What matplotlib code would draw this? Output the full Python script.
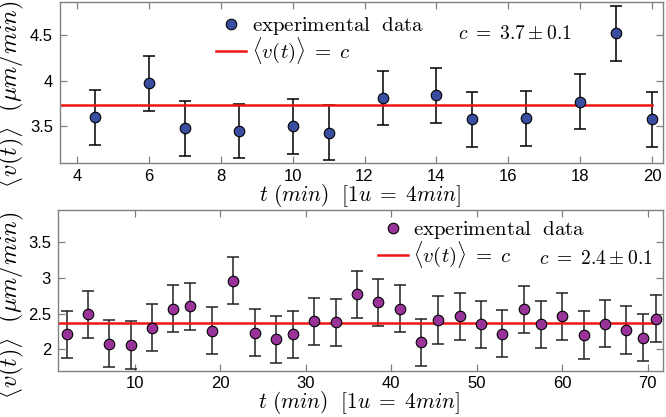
import matplotlib
matplotlib.use("Agg")
import matplotlib.pyplot as plt
from matplotlib.lines import Line2D

plt.rcParams['mathtext.fontset'] = 'cm'
plt.rcParams['font.family'] = ['Liberation Sans', 'DejaVu Sans']

# Top panel data
t1 = [4.5, 6, 7, 8.5, 10, 11, 12.5, 14, 15, 16.5, 18, 19, 20]
v1 = [3.60, 3.97, 3.48, 3.45, 3.50, 3.43, 3.81, 3.84, 3.58, 3.59, 3.77, 4.52, 3.58]
e1 = [0.3] * len(t1)
c1 = 3.73

# Bottom panel data
t2 = [2, 4.5, 7, 9.5, 12, 14.5, 16.5, 19, 21.5, 24, 26.5, 28.5, 31, 33.5, 36,
      38.5, 41, 43.5, 45.5, 48, 50.5, 53, 55.5, 57.5, 60, 62.5, 65, 67.5, 69.5, 71]
v2 = [2.21, 2.49, 2.08, 2.06, 2.30, 2.57, 2.60, 2.26, 2.96, 2.23, 2.14, 2.21, 2.39, 2.38, 2.77,
      2.66, 2.57, 2.10, 2.41, 2.46, 2.35, 2.22, 2.56, 2.35, 2.46, 2.20, 2.36, 2.27, 2.16, 2.43]
e2 = [0.33] * len(t2)
c2 = 2.37

xticks1 = [4, 6, 8, 10, 12, 14, 16, 18, 20]
yticks1 = [3.5, 4, 4.5]
xticks2 = [10, 20, 30, 40, 50, 60, 70]
yticks2 = [2, 2.5, 3, 3.5]

fig = plt.figure(figsize=(6.66, 4.17), dpi=100)
ax1 = fig.add_axes([60/666, 1 - 163/417, 603/666, 161/417])
ax2 = fig.add_axes([58/666, 1 - 370.7/417, 605/666, 160.7/417])

spine_col = '#808080'
red = '#f01515'
xlab = r'$t\ (min)\ \ [1u\;=\;4min]$'
ylab = r'$\langle v(t)\rangle\ \ (\mu m/min)$'
leg_labels = [r'$\mathrm{experimental\ \ data}$', r'$\langle v(t)\rangle\;=\;c$']

def style(ax):
    for s in ax.spines.values():
        s.set_color(spine_col)
        s.set_linewidth(1.0)
    ax.tick_params(direction='in', top=True, right=True, labelsize=12,
                   color=spine_col, length=5, width=0.9, pad=5)
    ax.tick_params(axis='x', pad=4)

def fmt(v):
    return ('%g' % v)

def handles(col):
    return [Line2D([], [], ls='none', marker='o', color=col, markeredgecolor='black',
                   markeredgewidth=0.8, markersize=7.6),
            Line2D([], [], color=red, lw=1.8)]

# Top
ax1.errorbar(t1, v1, yerr=e1, fmt='none', ecolor='black', elinewidth=1.1,
             capsize=4.2, capthick=1.1, zorder=2)
ax1.plot(t1, v1, 'o', color='#3a4ea0', markeredgecolor='black', markeredgewidth=0.8,
         markersize=7.6, zorder=3)
ax1.plot([3.5, 20], [c1, c1], color=red, lw=1.8, zorder=2.5)
ax1.set_xlim(3.53, 20.3)
ax1.set_ylim(3.1, 4.86)
ax1.set_xticks(xticks1)
ax1.set_xticklabels([fmt(x) for x in xticks1])
ax1.set_yticks(yticks1)
ax1.set_yticklabels([fmt(y) for y in yticks1])
style(ax1)
ax1.set_xlabel(xlab, fontsize=15.5)
ax1.xaxis.set_label_coords(0.497, -0.115)
ax1.set_ylabel(ylab, fontsize=17.5)
ax1.yaxis.set_label_coords(-0.056, 0.43)
ax1.legend(handles('#3a4ea0'), leg_labels,
           loc='upper left', bbox_to_anchor=(0.228, 1.035), frameon=False, fontsize=15,
           handlelength=1.45, handletextpad=0.25, labelspacing=-0.1)
ax1.text(0.66, 0.77, r'$c\ =\ 3.7 \pm 0.1$', transform=ax1.transAxes, fontsize=14)

# Bottom
ax2.errorbar(t2, v2, yerr=e2, fmt='none', ecolor='#222222', elinewidth=1.1,
             capsize=4.2, capthick=1.1, zorder=2)
ax2.plot(t2, v2, 'o', color='#993399', markeredgecolor='black', markeredgewidth=0.8,
         markersize=7.6, zorder=3)
ax2.plot([1, 71], [c2, c2], color=red, lw=1.8, zorder=2.5)
ax2.set_xlim(1.0, 71.8)
ax2.set_ylim(1.70, 3.95)
ax2.set_xticks(xticks2)
ax2.set_xticklabels([fmt(x) for x in xticks2])
ax2.set_yticks(yticks2)
ax2.set_yticklabels([fmt(y) for y in yticks2])
style(ax2)
ax2.set_xlabel(xlab, fontsize=15.5)
ax2.xaxis.set_label_coords(0.497, -0.115)
ax2.set_ylabel(ylab, fontsize=17.5)
ax2.yaxis.set_label_coords(-0.053, 0.41)
ax2.legend(handles('#993399'), leg_labels,
           loc='upper left', bbox_to_anchor=(0.498, 1.06), frameon=False, fontsize=15,
           handlelength=1.45, handletextpad=0.25, labelspacing=-0.1)
ax2.text(0.795, 0.665, r'$c\ =\ 2.4 \pm 0.1$', transform=ax2.transAxes, fontsize=14)

fig.savefig('out.png', dpi=100)
